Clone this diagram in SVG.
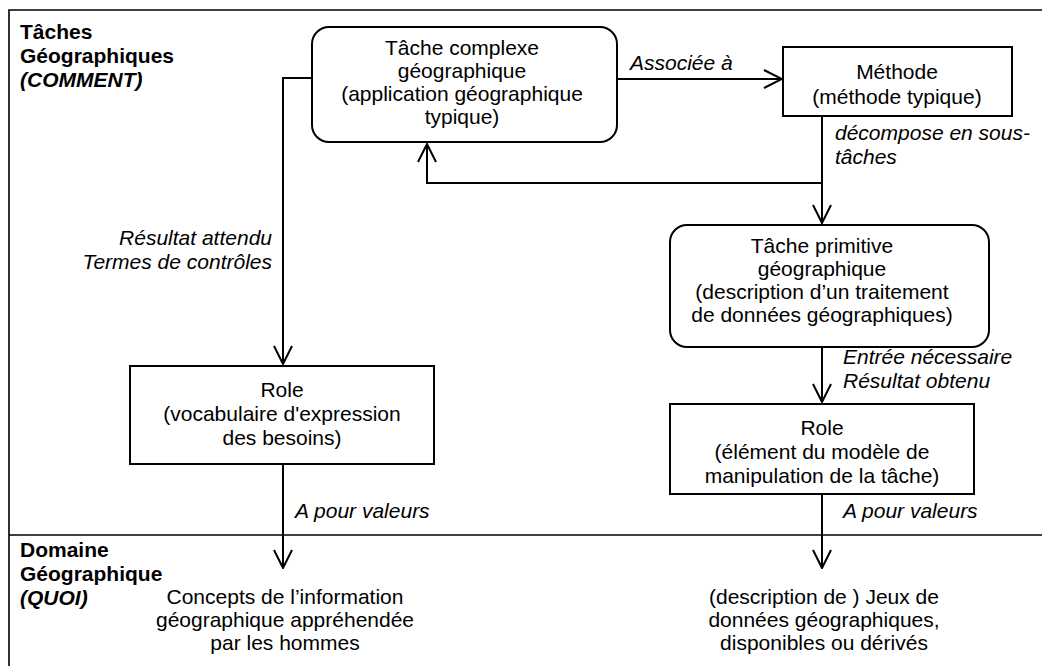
<svg xmlns="http://www.w3.org/2000/svg" width="1042" height="666" viewBox="0 0 1042 666">
<defs>
<style>
.t{font-family:"Liberation Sans",Arial,sans-serif;font-size:21px;fill:#000}
.c{text-anchor:middle}
.i{font-style:italic}
.b{font-weight:bold}
.box{fill:#fff;stroke:#000;stroke-width:2}
.con{fill:none;stroke:#000;stroke-width:2}
.frame{fill:none;stroke:#000;stroke-width:1.6}
</style>
<marker id="arr" viewBox="0 0 20 20" refX="19" refY="10" markerWidth="20" markerHeight="20" orient="auto" markerUnits="userSpaceOnUse">
<path d="M1,1 L19,10 L1,19" fill="none" stroke="#000" stroke-width="2"/>
</marker>
</defs>
<rect width="1042" height="666" fill="#fff"/>
<g id="frame">
<path class="frame" d="M9,666 V10 H1042"/>
<path class="frame" d="M9,535 H1042"/>
<text class="t b" x="20" y="39">Tâches</text>
<text class="t b" x="20" y="63">Géographiques</text>
<text class="t b i" x="20" y="87">(COMMENT)</text>
<text class="t b" x="20" y="557">Domaine</text>
<text class="t b" x="20" y="581">Géographique</text>
<text class="t b i" x="20" y="605">(QUOI)</text>
</g>
<g id="connectors">
<path class="con" d="M617,79 H782" marker-end="url(#arr)"/>
<path class="con" d="M312,78 H283 V364" marker-end="url(#arr)"/>
<path class="con" d="M822,183 H427 V144" marker-end="url(#arr)"/>
<path class="con" d="M822,116 V223" marker-end="url(#arr)"/>
<path class="con" d="M822,347 V402" marker-end="url(#arr)"/>
<path class="con" d="M283,464 V568" marker-end="url(#arr)"/>
<path class="con" d="M822,494 V568" marker-end="url(#arr)"/>
<text class="t i" x="630" y="70">Associée à</text>
<text class="t i" x="835" y="140">décompose en sous-</text>
<text class="t i" x="835" y="164">tâches</text>
<text class="t i" x="272" y="245" text-anchor="end">Résultat attendu</text>
<text class="t i" x="272" y="269" text-anchor="end">Termes de contrôles</text>
<text class="t i" x="843" y="364">Entrée nécessaire</text>
<text class="t i" x="843" y="388">Résultat obtenu</text>
<text class="t i" x="295" y="518">A pour valeurs</text>
<text class="t i" x="843" y="518">A pour valeurs</text>
</g>
<g id="tache-complexe">
<rect class="box" x="312" y="27" width="305" height="115" rx="17"/>
<text class="t c" x="462" y="55">Tâche complexe</text>
<text class="t c" x="462" y="78">géographique</text>
<text class="t c" x="462" y="101">(application géographique</text>
<text class="t c" x="462" y="124">typique)</text>
</g>
<g id="methode">
<rect class="box" x="783" y="47" width="229" height="69"/>
<text class="t c" x="897" y="79">Méthode</text>
<text class="t c" x="897" y="104">(méthode typique)</text>
</g>
<g id="tache-primitive">
<rect class="box" x="670" y="225" width="319" height="122" rx="17"/>
<text class="t c" x="822" y="253">Tâche primitive</text>
<text class="t c" x="822" y="276">géographique</text>
<text class="t c" x="822" y="299">(description d’un traitement</text>
<text class="t c" x="822" y="322">de données géographiques)</text>
</g>
<g id="role-besoins">
<rect class="box" x="130" y="366" width="304" height="98"/>
<text class="t c" x="282" y="397">Role</text>
<text class="t c" x="282" y="421">(vocabulaire d'expression</text>
<text class="t c" x="282" y="445">des besoins)</text>
</g>
<g id="role-tache">
<rect class="box" x="670" y="404" width="304" height="90"/>
<text class="t c" x="822" y="435">Role</text>
<text class="t c" x="822" y="459">(élément du modèle de</text>
<text class="t c" x="822" y="483">manipulation de la tâche)</text>
</g>
<g id="concepts">
<text class="t c" x="285" y="604">Concepts de l’information</text>
<text class="t c" x="285" y="627">géographique appréhendée</text>
<text class="t c" x="285" y="650">par les hommes</text>
</g>
<g id="jeux-donnees">
<text class="t c" x="824" y="604">(description de ) Jeux de</text>
<text class="t c" x="824" y="627">données géographiques,</text>
<text class="t c" x="824" y="650">disponibles ou dérivés</text>
</g>
</svg>
